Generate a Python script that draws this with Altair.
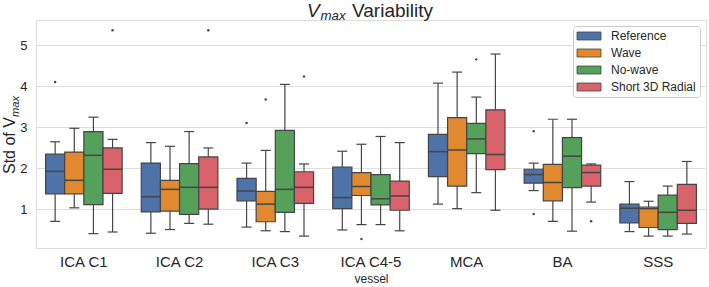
import altair as alt
import pandas as pd

vessels = ["ICA C1", "ICA C2", "ICA C3", "ICA C4-5", "MCA", "BA", "SSS"]
methods = ["Reference", "Wave", "No-wave", "Short 3D Radial"]
colors = ["#4E73A8", "#E0892F", "#55A05A", "#D8636B"]

# per vessel: values for [Reference, Wave, No-wave, Short 3D Radial]
whisker_low = [
    [0.71, 1.04, 0.41, 0.45],
    [0.42, 0.51, 0.66, 0.64],
    [0.57, 0.48, 0.46, 0.35],
    [0.50, 0.63, 0.63, 0.48],
    [1.13, 1.02, 1.41, 0.98],
    [1.46, 0.71, 0.47, 1.18],
    [0.46, 0.35, 0.35, 0.40],
]
q1 = [
    [1.38, 1.38, 1.12, 1.39],
    [0.94, 0.96, 0.88, 1.01],
    [1.21, 0.70, 0.93, 1.15],
    [1.02, 1.34, 1.11, 0.98],
    [1.80, 1.57, 2.36, 1.97],
    [1.64, 1.21, 1.53, 1.57],
    [0.67, 0.56, 0.51, 0.66],
]
median = [
    [1.93, 1.71, 2.32, 1.98],
    [1.31, 1.49, 1.54, 1.54],
    [1.45, 1.13, 1.49, 1.54],
    [1.29, 1.56, 1.26, 1.33],
    [2.41, 2.45, 2.72, 2.34],
    [1.85, 1.66, 2.30, 1.90],
    [1.03, 1.02, 0.93, 0.98],
]
q3 = [
    [2.35, 2.40, 2.90, 2.50],
    [2.13, 1.71, 2.12, 2.28],
    [1.76, 1.44, 2.93, 1.92],
    [2.03, 1.90, 1.85, 1.69],
    [2.83, 3.24, 3.10, 3.43],
    [1.98, 2.10, 2.75, 2.08],
    [1.13, 1.06, 1.35, 1.61],
]
whisker_high = [
    [2.65, 2.98, 3.25, 2.71],
    [2.63, 2.54, 2.90, 2.50],
    [2.13, 2.44, 4.05, 2.11],
    [2.42, 2.59, 2.78, 2.63],
    [4.08, 4.35, 3.74, 4.79],
    [2.13, 3.20, 3.20, 2.11],
    [1.68, 1.20, 1.57, 2.17],
]

outlier_vessel = ["ICA C1", "ICA C1", "ICA C2", "ICA C3", "ICA C3", "ICA C3",
                  "ICA C4-5", "MCA", "BA", "BA", "BA"]
outlier_method = ["Reference", "Short 3D Radial", "Short 3D Radial", "Reference", "Wave",
                  "Short 3D Radial", "Wave", "No-wave", "Reference", "Reference",
                  "Short 3D Radial"]
outlier_value = [4.11, 5.37, 5.37, 3.11, 3.68, 4.24, 0.28, 4.66, 2.91, 0.89, 0.71]

rows = []
for i, v in enumerate(vessels):
    for j, m in enumerate(methods):
        rows.append({"vessel": v, "method": m, "lo": whisker_low[i][j], "q1": q1[i][j],
                     "med": median[i][j], "q3": q3[i][j], "hi": whisker_high[i][j]})
df = pd.DataFrame(rows)
out_df = pd.DataFrame({"vessel": outlier_vessel, "method": outlier_method, "value": outlier_value})

EDGE = "#454545"
FONT = "Liberation Sans"

x_enc = alt.X("vessel:N", sort=vessels,
              scale=alt.Scale(paddingInner=0.2, paddingOuter=0.1),
              axis=alt.Axis(title="vessel", labelAngle=0, ticks=False, domain=False,
                            labelFontSize=15, labelPadding=6, labelColor="#262626",
                            titleFontSize=12, titleFontWeight="normal", titleColor="#262626",
                            titlePadding=4, labelFont=FONT, titleFont=FONT))
xo_enc = alt.XOffset("method:N", sort=methods, scale=alt.Scale(paddingInner=0, paddingOuter=0))
y_scale = alt.Scale(domain=[0.06, 5.62], nice=False, zero=False)
y_axis = alt.Axis(title=None, values=[1, 2, 3, 4, 5], ticks=False, domain=False,
                  labelFontSize=13, labelPadding=9, labelColor="#262626",
                  gridColor="#dedede", gridWidth=1, labelFont=FONT)

base = alt.Chart(df)

whisk_lo = base.mark_rule(color=EDGE, strokeWidth=1.2).encode(
    x=x_enc, xOffset=xo_enc,
    y=alt.Y("lo:Q", scale=y_scale, axis=y_axis), y2="q1:Q")
whisk_hi = base.mark_rule(color=EDGE, strokeWidth=1.2).encode(
    x=x_enc, xOffset=xo_enc, y=alt.Y("q3:Q", scale=y_scale), y2="hi:Q")
cap_lo = base.mark_tick(color=EDGE, size=10, thickness=1.2, opacity=1).encode(
    x=x_enc, xOffset=xo_enc, y=alt.Y("lo:Q", scale=y_scale))
cap_hi = base.mark_tick(color=EDGE, size=10, thickness=1.2, opacity=1).encode(
    x=x_enc, xOffset=xo_enc, y=alt.Y("hi:Q", scale=y_scale))
boxes = base.mark_bar(stroke=EDGE, strokeWidth=1.2, opacity=1).encode(
    x=x_enc, xOffset=xo_enc,
    y=alt.Y("q1:Q", scale=y_scale), y2="q3:Q",
    fill=alt.Fill("method:N", sort=methods,
                  scale=alt.Scale(domain=methods, range=colors),
                  legend=alt.Legend(title=None, orient="none", legendX=537, legendY=6,
                                    symbolType="M-1.5,-1H4.5V1H-1.5Z", symbolSize=64,
                                    symbolStrokeColor=EDGE, symbolStrokeWidth=0.8,
                                    symbolOpacity=1,
                                    labelFontSize=12, labelFont=FONT, labelColor="#262626",
                                    labelOffset=22, rowPadding=5, padding=4,
                                    fillColor="white", strokeColor="#cccccc",
                                    cornerRadius=3, labelLimit=200)))
medians = base.mark_tick(color=EDGE, size=19, thickness=1.5, opacity=1).encode(
    x=x_enc, xOffset=xo_enc, y=alt.Y("med:Q", scale=y_scale))
outliers = alt.Chart(out_df).mark_circle(color=EDGE, size=6, opacity=1).encode(
    x=x_enc, xOffset=xo_enc, y=alt.Y("value:Q", scale=y_scale))

one = pd.DataFrame({"t": [""]})
def label(text, x, y, size, italic=False, angle=0):
    props = dict(text=text, fontSize=size, font=FONT, color="#262626",
                 align="left", baseline="alphabetic", angle=angle)
    if italic:
        props["fontStyle"] = "italic"
    return alt.Chart(one).mark_text(**props).encode(x=alt.value(x), y=alt.value(y))

title_parts = [
    label("V", 271, -3.3, 19, italic=True),
    label("max", 284.5, -0.5, 13.3, italic=True),
    label("Variability", 316, -3.3, 19),
]
ylab_parts = [
    label("Std of V", -21, 154, 16, angle=270),
    label("max", -17.5, 97, 11.2, italic=True, angle=270),
]

chart = alt.layer(whisk_lo, whisk_hi, cap_lo, cap_hi, boxes, medians, outliers,
                  *title_parts, *ylab_parts).properties(
    width=670, height=228,
    autosize=alt.AutoSizeParams(type="none"),
    padding={"left": 36, "top": 20, "right": 3, "bottom": 39},
).configure_view(stroke="#cccccc", strokeWidth=1.2).configure(background="white")

chart.save("out.html", embed_options={"renderer": "svg", "actions": False})
